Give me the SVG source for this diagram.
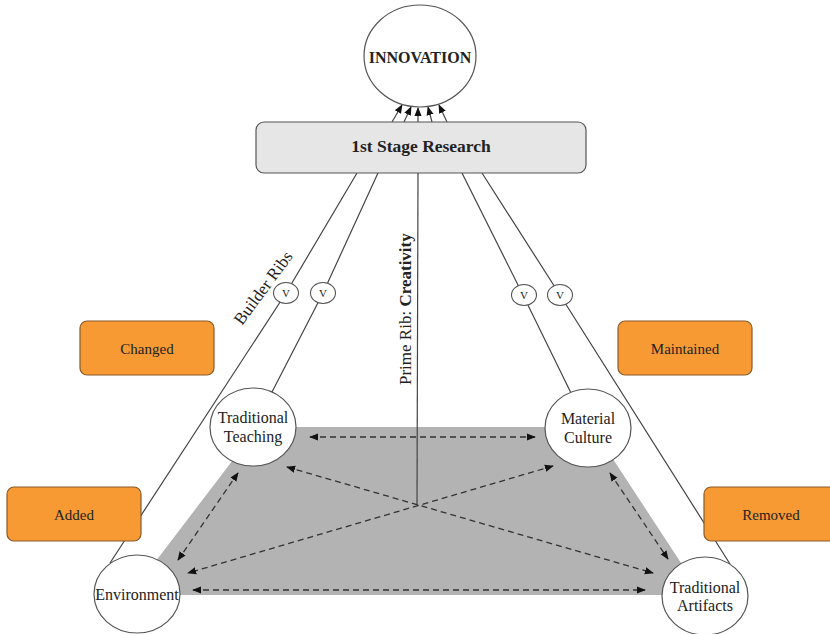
<svg xmlns="http://www.w3.org/2000/svg" width="830" height="634" viewBox="0 0 830 634">
<defs>
<style>
.rib{fill:none;stroke:#444;stroke-width:1.2}
.dash{fill:none;stroke:#333;stroke-width:1.3;stroke-dasharray:6 4}
.node{fill:#fff;stroke:#555;stroke-width:1.2}
.vc{fill:#fff;stroke:#555;stroke-width:1.1}
.org{fill:#f79a34;stroke:#8a5a2a;stroke-width:1.2}
.t{font-family:"Liberation Serif","Times New Roman",serif;fill:#222;text-anchor:middle}
</style>
<marker id="ah" viewBox="0 0 10 10" refX="9" refY="5" markerWidth="9" markerHeight="9" markerUnits="userSpaceOnUse" orient="auto-start-reverse">
<path d="M0,1 L10,5 L0,9 Z" fill="#111"/>
</marker>
</defs>
<rect width="830" height="634" fill="#fff"/>
<polygon points="258,427 592,427 702,595 130,595" fill="#b3b3b3"/>
<g id="connectors">
<line class="rib" x1="392" y1="122" x2="402" y2="105" marker-end="url(#ah)"/>
<line class="rib" x1="404" y1="122" x2="411" y2="107" marker-end="url(#ah)"/>
<line class="rib" x1="418" y1="122" x2="418" y2="108" marker-end="url(#ah)"/>
<line class="rib" x1="432" y1="122" x2="428" y2="107" marker-end="url(#ah)"/>
<line class="rib" x1="447" y1="122" x2="439" y2="105" marker-end="url(#ah)"/>
<polyline class="rib" points="357,173 286,293 110,563"/>
<polyline class="rib" points="378,173 323,293 272,392"/>
<polyline class="rib" points="462,173 523,295 571,393"/>
<polyline class="rib" points="482,173 560,295 730,564"/>
<line class="rib" x1="418" y1="173" x2="417" y2="505"/>
<line class="dash" x1="310" y1="437" x2="535" y2="437" marker-start="url(#ah)" marker-end="url(#ah)"/>
<line class="dash" x1="287" y1="467" x2="653" y2="573" marker-start="url(#ah)" marker-end="url(#ah)"/>
<line class="dash" x1="553" y1="466" x2="188" y2="573" marker-start="url(#ah)" marker-end="url(#ah)"/>
<line class="dash" x1="193" y1="590" x2="645" y2="590" marker-start="url(#ah)" marker-end="url(#ah)"/>
<line class="dash" x1="238" y1="473" x2="178" y2="560" marker-start="url(#ah)" marker-end="url(#ah)"/>
<line class="dash" x1="610" y1="473" x2="668" y2="559" marker-start="url(#ah)" marker-end="url(#ah)"/>
</g>
<g id="innovation">
<ellipse class="node" cx="420" cy="56" rx="56" ry="51"/>
<text class="t" x="420" y="63" font-size="16" font-weight="bold">INNOVATION</text>
</g>
<g id="stage">
<rect x="256" y="122" width="330" height="51" rx="8" fill="#e6e6e6" stroke="#555" stroke-width="1.2"/>
<text class="t" x="421" y="152" font-size="17.5" font-weight="bold">1st Stage Research</text>
</g>
<g id="teaching">
<ellipse class="node" cx="253" cy="427" rx="43" ry="39"/>
<text class="t" x="253" y="423" font-size="16">Traditional</text>
<text class="t" x="253" y="442" font-size="16">Teaching</text>
</g>
<g id="material">
<ellipse class="node" cx="588" cy="428" rx="43" ry="39"/>
<text class="t" x="588" y="424" font-size="16">Material</text>
<text class="t" x="588" y="443" font-size="16">Culture</text>
</g>
<g id="environment">
<ellipse class="node" cx="137" cy="594" rx="43" ry="39"/>
<text class="t" x="137" y="600" font-size="16">Environment</text>
</g>
<g id="artifacts">
<ellipse class="node" cx="705" cy="596" rx="43" ry="39"/>
<text class="t" x="705" y="593" font-size="16">Traditional</text>
<text class="t" x="705" y="611" font-size="16">Artifacts</text>
</g>
<g id="changed">
<rect class="org" x="80" y="321" width="134" height="54" rx="7"/>
<text class="t" x="147" y="354" font-size="15">Changed</text>
</g>
<g id="added">
<rect class="org" x="7" y="487" width="134" height="54" rx="7"/>
<text class="t" x="74" y="520" font-size="15">Added</text>
</g>
<g id="maintained">
<rect class="org" x="618" y="321" width="134" height="54" rx="7"/>
<text class="t" x="685" y="354" font-size="15">Maintained</text>
</g>
<g id="removed">
<rect class="org" x="704" y="487" width="134" height="54" rx="7"/>
<text class="t" x="771" y="520" font-size="15">Removed</text>
</g>
<g id="v1"><ellipse class="vc" cx="286" cy="293" rx="12.5" ry="10.5"/><text class="t" x="286" y="297" font-size="11">V</text></g>
<g id="v2"><ellipse class="vc" cx="323" cy="293" rx="12.5" ry="10.5"/><text class="t" x="323" y="297" font-size="11">V</text></g>
<g id="v3"><ellipse class="vc" cx="524" cy="295" rx="12.5" ry="10.5"/><text class="t" x="524" y="299" font-size="11">V</text></g>
<g id="v4"><ellipse class="vc" cx="560" cy="295" rx="12.5" ry="10.5"/><text class="t" x="560" y="299" font-size="11">V</text></g>
<g id="labels">
<text class="t" x="0" y="0" font-size="17" text-anchor="start" transform="translate(242,326) rotate(-53.5)" style="text-anchor:start">Builder Ribs</text>
<text class="t" x="0" y="0" font-size="17" transform="translate(411,385) rotate(-90)" style="text-anchor:start">Prime Rib: <tspan font-weight="bold">Creativity</tspan></text>
</g>
</svg>
